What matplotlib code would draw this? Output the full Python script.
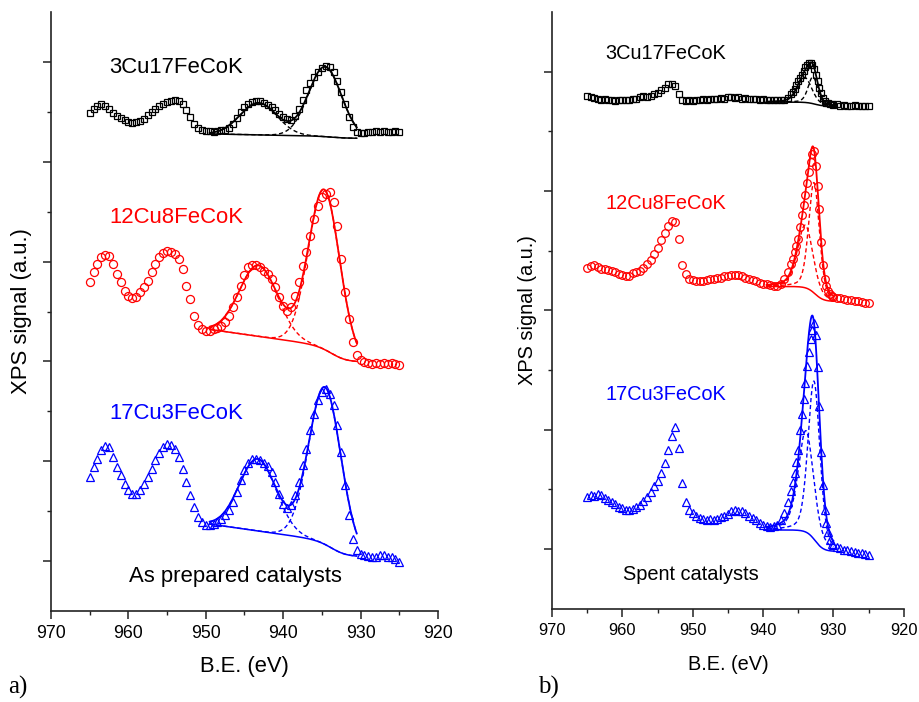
import numpy as np
import matplotlib
matplotlib.use('Agg')
import matplotlib.pyplot as plt
from matplotlib.ticker import MultipleLocator

plt.rcParams['font.family'] = ['Liberation Sans', 'DejaVu Sans']

samples = ['3Cu17FeCoK', '12Cu8FeCoK', '17Cu3FeCoK']
colors = ['black', 'red', 'blue']
markers = ['s', 'o', '^']

# as prepared catalysts: Cu 2p region, 0.5 eV steps from 965 to 925 eV
energy_a = np.arange(965, 924.9, -0.5)
fresh_3cu = [
    9.98, 10.05, 10.12, 10.15, 10.12, 10.06, 9.98, 9.92, 9.87, 9.83,
    9.80, 9.78, 9.80, 9.82, 9.86, 9.93, 9.99, 10.05, 10.11, 10.16,
    10.19, 10.22, 10.23, 10.21, 10.15, 10.03, 9.89, 9.76, 9.67, 9.63,
    9.61, 9.62, 9.60, 9.62, 9.63, 9.64, 9.68, 9.76, 9.87, 9.99,
    10.09, 10.16, 10.20, 10.22, 10.21, 10.18, 10.14, 10.09, 10.03, 9.96,
    9.89, 9.85, 9.84, 9.92, 10.05, 10.24, 10.43, 10.57, 10.69, 10.80,
    10.87, 10.91, 10.90, 10.80, 10.62, 10.40, 10.15, 9.90, 9.69, 9.60,
    9.57, 9.58, 9.60, 9.59, 9.61, 9.60, 9.62, 9.59, 9.60, 9.61,
    9.60]
fresh_12cu = [
    6.60, 6.79, 6.95, 7.09, 7.13, 7.12, 6.95, 6.75, 6.59, 6.42,
    6.32, 6.27, 6.29, 6.39, 6.49, 6.62, 6.79, 6.95, 7.09, 7.17,
    7.22, 7.20, 7.15, 7.05, 6.85, 6.52, 6.25, 5.92, 5.72, 5.64,
    5.60, 5.60, 5.64, 5.67, 5.71, 5.79, 5.92, 6.09, 6.29, 6.52,
    6.73, 6.89, 6.93, 6.93, 6.89, 6.82, 6.75, 6.65, 6.49, 6.29,
    6.12, 6.02, 6.09, 6.32, 6.59, 6.92, 7.19, 7.52, 7.85, 8.12,
    8.29, 8.35, 8.39, 8.19, 7.72, 7.05, 6.39, 5.85, 5.39, 5.12,
    5.02, 4.99, 4.97, 4.95, 4.97, 4.94, 4.96, 4.95, 4.97, 4.94,
    4.92]
fresh_17cu = [
    2.69, 2.89, 3.05, 3.22, 3.31, 3.29, 3.09, 2.89, 2.72, 2.55,
    2.42, 2.34, 2.35, 2.42, 2.55, 2.69, 2.85, 3.02, 3.17, 3.29,
    3.35, 3.33, 3.25, 3.09, 2.85, 2.59, 2.32, 2.09, 1.89, 1.79,
    1.73, 1.72, 1.75, 1.79, 1.84, 1.92, 2.02, 2.19, 2.39, 2.62,
    2.82, 2.97, 3.05, 3.05, 3.02, 2.97, 2.91, 2.79, 2.59, 2.35,
    2.15, 2.07, 2.12, 2.32, 2.59, 2.92, 3.25, 3.62, 3.95, 4.22,
    4.39, 4.44, 4.35, 4.12, 3.72, 3.19, 2.52, 1.92, 1.45, 1.22,
    1.15, 1.12, 1.11, 1.09, 1.09, 1.13, 1.12, 1.09, 1.09, 1.05,
    0.99]

# spent catalysts: finer steps across the narrow 2p3/2 line
energy_b = np.concatenate([np.arange(965, 936.4, -0.5),
                           np.arange(936, 930.1, -0.25),
                           np.arange(930, 924.9, -0.5)])
spent_3cu = [
    8.59, 8.57, 8.56, 8.55, 8.53, 8.54, 8.52, 8.53, 8.51, 8.52,
    8.53, 8.52, 8.53, 8.55, 8.55, 8.57, 8.59, 8.58, 8.59, 8.62,
    8.65, 8.69, 8.73, 8.79, 8.80, 8.76, 8.62, 8.53, 8.51, 8.52,
    8.51, 8.53, 8.52, 8.54, 8.53, 8.55, 8.54, 8.55, 8.56, 8.55,
    8.57, 8.58, 8.56, 8.58, 8.55, 8.56, 8.55, 8.54, 8.55, 8.53,
    8.54, 8.53, 8.52, 8.53, 8.52, 8.53, 8.53, 8.56,
    8.62, 8.66, 8.71, 8.77, 8.84, 8.90, 8.95, 9.01, 9.07, 9.11,
    9.14, 9.15, 9.12, 9.05, 8.95, 8.84, 8.73, 8.64, 8.56, 8.51,
    8.48, 8.47, 8.45, 8.45,
    8.44, 8.45, 8.43, 8.44, 8.42, 8.43, 8.44, 8.42, 8.43, 8.42, 8.43]
spent_12cu = [
    5.71, 5.74, 5.76, 5.72, 5.70, 5.69, 5.67, 5.66, 5.64, 5.61,
    5.59, 5.57, 5.58, 5.62, 5.64, 5.66, 5.71, 5.78, 5.85, 5.94,
    6.05, 6.18, 6.30, 6.42, 6.49, 6.48, 6.20, 5.76, 5.61, 5.53,
    5.51, 5.50, 5.49, 5.50, 5.51, 5.52, 5.52, 5.54, 5.55, 5.57,
    5.58, 5.59, 5.60, 5.59, 5.57, 5.55, 5.53, 5.51, 5.49, 5.46,
    5.45, 5.44, 5.42, 5.40, 5.41, 5.44, 5.52, 5.64,
    5.78, 5.86, 5.97, 6.08, 6.19, 6.40, 6.59, 6.77, 6.94, 7.13,
    7.32, 7.49, 7.62, 7.67, 7.42, 7.08, 6.70, 6.15, 5.76, 5.53,
    5.40, 5.33, 5.27, 5.24,
    5.22, 5.21, 5.20, 5.19, 5.18, 5.17, 5.16, 5.15, 5.14, 5.13, 5.12]
spent_17cu = [
    1.88, 1.90, 1.89, 1.92, 1.90, 1.86, 1.82, 1.78, 1.75, 1.71,
    1.68, 1.66, 1.65, 1.67, 1.70, 1.74, 1.81, 1.88, 1.96, 2.05,
    2.14, 2.28, 2.44, 2.66, 2.90, 3.04, 2.70, 2.10, 1.78, 1.66,
    1.60, 1.55, 1.52, 1.50, 1.49, 1.50, 1.49, 1.51, 1.53, 1.56,
    1.59, 1.64, 1.66, 1.64, 1.63, 1.60, 1.56, 1.52, 1.48, 1.44,
    1.41, 1.38, 1.37, 1.38, 1.41, 1.48, 1.60, 1.78,
    1.98, 2.12, 2.28, 2.46, 2.66, 3.00, 3.27, 3.52, 3.78, 4.06,
    4.31, 4.52, 4.67, 4.79, 4.58, 4.05, 3.40, 2.62, 2.08, 1.66,
    1.43, 1.28, 1.15, 1.09,
    1.06, 1.04, 1.01, 0.99, 0.98, 0.97, 0.95, 0.94, 0.93, 0.91, 0.90]

# fitted background: low level, step height, slope above the step
bkg_a = [(9.47, 0.04, 0.003), (4.99, 0.30, 0.022), (1.09, 0.30, 0.022)]
bkg_b = [(8.42, 0.07, 0.0), (5.15, 0.25, 0.0), (0.96, 0.36, 0.0)]
# fitted peaks: centre (eV), height, fwhm (eV), lorentzian fraction
peaks_a = [
    [(943.2, 0.64, 5.6, 0.0), (934.6, 1.40, 5.0, 0.0)],
    [(943.2, 1.42, 5.8, 0.0), (934.7, 3.20, 4.75, 0.0)],
    [(943.3, 1.44, 5.6, 0.0), (934.6, 3.15, 4.9, 0.0)]]
peaks_b = [
    [(932.9, 0.45, 1.6, 0.3), (934.1, 0.42, 2.4, 0.3)],
    [(932.75, 1.85, 1.8, 0.3), (934.0, 1.05, 2.6, 0.3)],
    [(932.75, 2.65, 2.0, 0.3), (933.9, 1.70, 2.6, 0.4)]]


def pseudo_voigt(e, centre, height, fwhm, frac):
    x = (e - centre) / fwhm
    gauss = np.exp(-4 * np.log(2) * x**2)
    lorentz = 1 / (1 + 4 * x**2)
    return height * ((1 - frac) * gauss + frac * lorentz)


def background(e, low, step, slope, centre, width):
    sig = 1 / (1 + np.exp(-(e - centre) / width))
    return low + (step + slope * (e - centre)) * sig


def draw_panel(ax, energy, spectra, bkgs, peaks, step_pos, fit_range, sizes):
    e_fit = np.linspace(fit_range[0], fit_range[1], 400)
    for y, c, m, ms, bk, pk in zip(spectra, colors, markers, sizes, bkgs, peaks):
        ax.plot(energy, y, ls='none', marker=m, ms=ms, mfc='none', mec=c,
                mew=0.9, zorder=2)
        bg = background(e_fit, *bk, *step_pos)
        total = bg.copy()
        for p in pk:
            comp = pseudo_voigt(e_fit, *p)
            ax.plot(e_fit, bg + comp, color=c, ls=(0, (3, 2)), lw=1.0, zorder=3)
            total += comp
        ax.plot(e_fit, bg, color=c, lw=1.1, zorder=4)
        ax.plot(e_fit, total, color=c, lw=1.3, zorder=4)


def style_axes(ax, ytop, fs_tick):
    ax.set_xlim(970, 920)
    ax.set_ylim(0, ytop)
    ax.set_xticks(np.arange(970, 919, -10))
    ax.xaxis.set_minor_locator(MultipleLocator(5))
    ax.set_yticks(np.arange(1, ytop, 2))
    ax.set_yticks(np.arange(2, ytop, 2), minor=True)
    ax.spines['top'].set_visible(False)
    ax.spines['right'].set_visible(False)
    for s in ['left', 'bottom']:
        ax.spines[s].set_linewidth(1.2)
        ax.spines[s].set_color('#222222')
    ax.tick_params(which='major', direction='out', length=6, width=1.1,
                   color='#222222', labelsize=fs_tick, pad=4)
    ax.tick_params(which='minor', direction='out', length=3, width=1.0,
                   color='#222222')
    ax.tick_params(axis='y', which='both', labelleft=False)


fig = plt.figure(figsize=(9.19, 7.02), dpi=100)
ax_a = fig.add_axes([0.0555, 0.1296, 0.4211, 0.8533])
ax_b = fig.add_axes([0.6007, 0.1329, 0.3827, 0.8500])

draw_panel(ax_a, energy_a, [fresh_3cu, fresh_12cu, fresh_17cu], bkg_a, peaks_a,
           (933.5, 1.0), (949.5, 930.5), [5.0, 5.8, 6.4])
draw_panel(ax_b, energy_b, [spent_3cu, spent_12cu, spent_17cu], bkg_b, peaks_b,
           (932.6, 0.6), (939.5, 930.0), [4.8, 5.5, 6.0])

style_axes(ax_a, 12, 12.8)
style_axes(ax_b, 10, 11.8)

# sample names
for label, c, y in zip(samples, colors, [10.88, 7.88, 3.96]):
    ax_a.text(962.5, y, label, color=c, fontsize=15.9, ha='left', va='center')
for label, c, y in zip(samples, colors, [9.31, 6.79, 3.59]):
    ax_b.text(962.4, y, label, color=c, fontsize=14.4, ha='left', va='center')
ax_a.text(959.9, 0.7, 'As prepared catalysts', fontsize=15.9, ha='left', va='center')
ax_b.text(959.95, 0.58, 'Spent catalysts', fontsize=14.4, ha='left', va='center')

ax_a.set_xlabel('B.E. (eV)', fontsize=15.8)
ax_a.set_ylabel('XPS signal (a.u.)', fontsize=15.9)
ax_b.set_xlabel('B.E. (eV)', fontsize=14.3)
ax_b.set_ylabel('XPS signal (a.u.)', fontsize=14.4)
ax_a.xaxis.set_label_coords(0.5, -0.075)
ax_b.xaxis.set_label_coords(0.5, -0.077)
ax_a.yaxis.set_label_coords(-0.048, 0.5)
ax_b.yaxis.set_label_coords(-0.044, 0.5)

fig.text(0.0087, 0.0214, 'a)', family='Liberation Serif', fontsize=18, va='center')
fig.text(0.5854, 0.0214, 'b)', family='Liberation Serif', fontsize=18, va='center')

fig.savefig('out.png', dpi=100)
